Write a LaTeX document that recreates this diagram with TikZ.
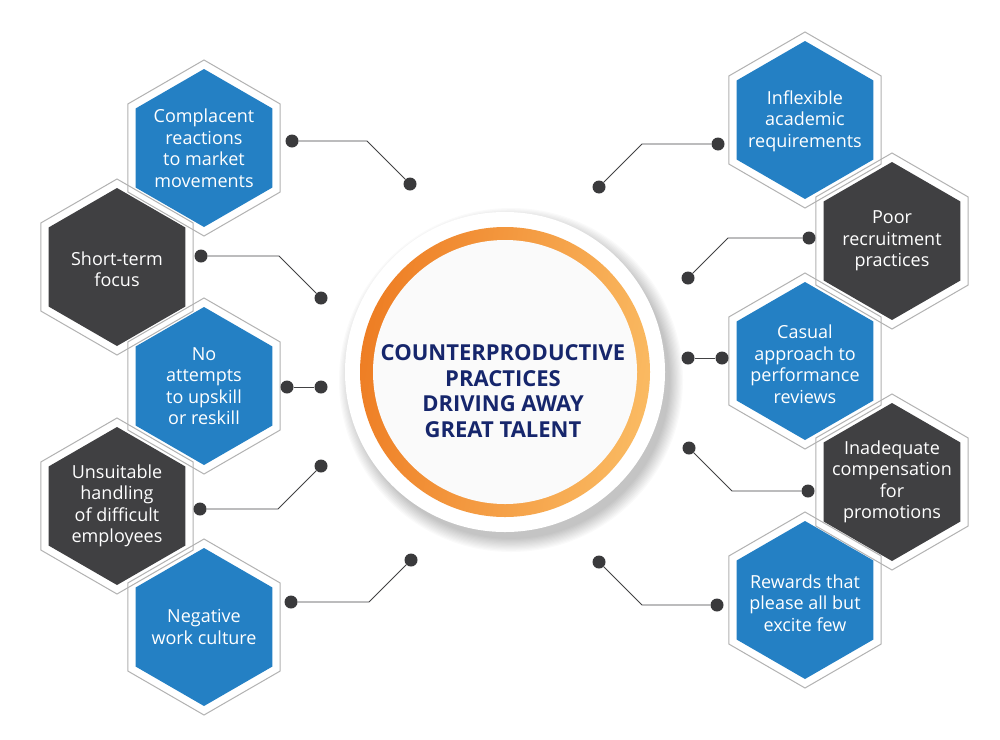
\documentclass[tikz,border=0pt]{standalone}
\usepackage{fontspec}
\setmainfont{Open Sans}
\usetikzlibrary{calc}
\definecolor{hexblue}{RGB}{36,128,196}
\definecolor{hexdark}{RGB}{64,64,66}
\definecolor{hexline}{RGB}{178,178,178}
\definecolor{navy}{RGB}{22,38,108}
\definecolor{orangeA}{RGB}{238,126,36}
\definecolor{orangeB}{RGB}{250,186,98}
\definecolor{dotcol}{RGB}{58,58,60}
\definecolor{linecol}{RGB}{66,66,68}
\definecolor{discwhite}{RGB}{250,250,250}
\newcommand\hexshape[4]{%
  \path[#4] (#1,#2) +(30:#3) -- +(90:#3) -- +(150:#3) -- +(210:#3) -- +(270:#3) -- +(330:#3) -- cycle;}
\begin{document}
\begin{tikzpicture}[x=1pt,y=-1pt,
  hextext/.style={text=white, align=center, font=\fontsize{18}{21.5}\selectfont, inner sep=0pt},
  outerhex/.style={fill=white},
  hexrim/.style={draw=hexline, line width=1pt},
  bluehex/.style={fill=hexblue},
  darkhex/.style={fill=hexdark},
  dotnode/.style={circle, fill=dotcol, minimum size=13pt, inner sep=0pt},
  conn/.style={draw=linecol, line width=0.9pt},
  titletext/.style={text=navy, align=center, font=\fontsize{22}{25.5}\selectfont\bfseries, inner sep=0pt}
]
\useasboundingbox (0,0) rectangle (1000,739);
\fill[white] (0,0) rectangle (1000,739);

% ---- centre disc ----
\coordinate (c) at (505,372);
\foreach \i in {0,...,11}
  \fill[black, opacity=0.02] ($(c)+(6,8)$) circle ({172-1.2*\i});
\fill[white] (c) circle (160);
\shade[left color=orangeA, right color=orangeB, shading angle=80] (c) circle (145);
\fill[discwhite] (c) circle (132);
\node[titletext] (title) at (503,391) {COUNTERPRODUCTIVE\\PRACTICES\\DRIVING AWAY\\GREAT TALENT};

% ---- hexagon frames ----
\foreach \x/\y in {204/148,117/267,204/386,117/506,204/627,805/120,892/241,805/361,892/482,805/600}
  \hexshape{\x}{\y}{88}{outerhex};
\foreach \x/\y in {204/148,117/267,204/386,117/506,204/627,805/120,892/241,805/361,892/482,805/600}
  \hexshape{\x}{\y}{88}{hexrim};
\foreach \x/\y/\s in {204/148/bluehex,117/267/darkhex,204/386/bluehex,117/506/darkhex,204/627/bluehex,805/120/bluehex,892/241/darkhex,805/361/bluehex,892/482/darkhex,805/600/bluehex}
  \hexshape{\x}{\y}{79}{\s};

% ---- hexagon texts ----
\node[hextext] (h1) at (204,148) {Complacent\\reactions\\to market\\movements};
\node[hextext] (h2) at (117,269) {Short-term\\focus};
\node[hextext] (h3) at (204,386) {No\\attempts\\to upskill\\or reskill};
\node[hextext] (h4) at (117,506) {Unsuitable\\handling\\of difficult\\employees};
\node[hextext] (h5) at (204,627) {Negative\\work culture};
\node[hextext] (h6) at (805,121) {Inflexible\\academic\\requirements};
\node[hextext] (h7) at (892,241) {Poor\\recruitment\\practices};
\node[hextext] (h8) at (805,364) {Casual\\approach to\\performance\\reviews};
\node[hextext] (h9) at (892,482) {Inadequate\\compensation\\for\\promotions};
\node[hextext] (h10) at (805,603) {Rewards that\\please all but\\excite few};

% ---- connectors ----
% left side
\node[dotnode] (a1) at (292,141) {};
\node[dotnode] (b1) at (410,184) {};
\coordinate (k1) at (367,141);
\node[dotnode] (a2) at (201,256) {};
\node[dotnode] (b2) at (321,298) {};
\coordinate (k2) at (279,256);
\node[dotnode] (a3) at (287,387) {};
\node[dotnode] (b3) at (321,387) {};
\node[dotnode] (a4) at (200,509) {};
\node[dotnode] (b4) at (321,466) {};
\coordinate (k4) at (278,509);
\node[dotnode] (a5) at (291,602) {};
\node[dotnode] (b5) at (411,560) {};
\coordinate (k5) at (369,602);
% right side
\node[dotnode] (a6) at (718,144) {};
\node[dotnode] (b6) at (599,187) {};
\coordinate (k6) at (642,144);
\node[dotnode] (a7) at (809,238) {};
\node[dotnode] (b7) at (688,278) {};
\coordinate (k7) at (728,238);
\node[dotnode] (a8) at (722,358) {};
\node[dotnode] (b8) at (688,358) {};
\node[dotnode] (a9) at (808,491) {};
\node[dotnode] (b9) at (689,448) {};
\coordinate (k9) at (732,491);
\node[dotnode] (a10) at (717,605) {};
\node[dotnode] (b10) at (599,562) {};
\coordinate (k10) at (642,605);

\begin{scope}[on background layer/.style={}]
\draw[conn] (a1) -- (k1) -- (b1);
\draw[conn] (a2) -- (k2) -- (b2);
\draw[conn] (a3) -- (b3);
\draw[conn] (a4) -- (k4) -- (b4);
\draw[conn] (a5) -- (k5) -- (b5);
\draw[conn] (a6) -- (k6) -- (b6);
\draw[conn] (a7) -- (k7) -- (b7);
\draw[conn] (a8) -- (b8);
\draw[conn] (a9) -- (k9) -- (b9);
\draw[conn] (a10) -- (k10) -- (b10);
\end{scope}
\end{tikzpicture}
\end{document}
